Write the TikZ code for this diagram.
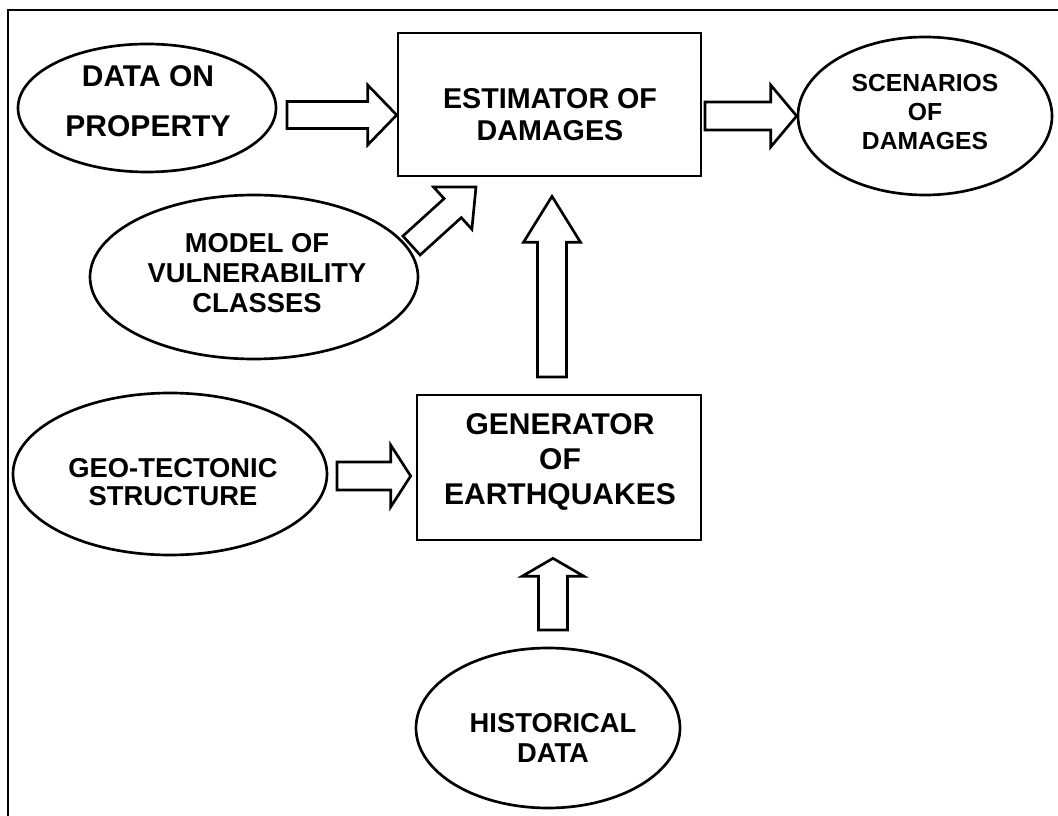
\documentclass[tikz,border=0pt]{standalone}
\usepackage{fontspec}
\setmainfont{Liberation Sans}
\usetikzlibrary{shapes.geometric,calc}
\newcommand{\blockarrow}[5]{%
  \coordinate (ba-n) at ($(#2)!#5!(#1)$);
  \draw[blockarr] ($(#1)!#3!90:(#2)$) -- ($(ba-n)!#3!90:(#2)$) -- ($(ba-n)!#4!90:(#2)$) -- (#2)
    -- ($(ba-n)!#4!-90:(#2)$) -- ($(ba-n)!#3!-90:(#2)$) -- ($(#1)!#3!-90:(#2)$) -- cycle;
}
\begin{document}
\begin{tikzpicture}[x=0.75pt,y=-0.75pt,line width=2pt,
  ell/.style={ellipse,draw,inner sep=0pt},
  box/.style={rectangle,draw,inner sep=0pt},
  txt/.style={inner sep=0pt,align=center},
  blockarr/.style={draw,fill=white,line width=2pt,line join=miter}]
\useasboundingbox (0,0) rectangle (1058,816);
\draw (8,816) -- (8,10) -- (1058,10);

% shapes
\node[ell,minimum width=193.5pt,minimum height=96pt] (data) at (147,108) {};
\node[box,minimum width=227.25pt,minimum height=107.25pt] (est) at (549.5,104.5) {};
\node[ell,minimum width=190.5pt,minimum height=118.5pt] (scen) at (925,116) {};
\node[ell,minimum width=246pt,minimum height=123pt] (model) at (254,277) {};
\node[box,minimum width=213pt,minimum height=108.75pt] (gen) at (559,467.5) {};
\node[ell,minimum width=235.5pt,minimum height=121.5pt] (geo) at (170,474) {};
\node[ell,minimum width=198pt,minimum height=120pt] (hist) at (548,728) {};

% texts
\node[txt,font=\fontsize{22.5pt}{37.5pt}\selectfont\bfseries] (data-t) at (148,101) {DATA ON\\PROPERTY};
\node[txt,font=\fontsize{21.5pt}{24pt}\selectfont\bfseries] (est-t) at (550,115) {ESTIMATOR OF\\DAMAGES};
\node[txt,font=\fontsize{18.5pt}{21.75pt}\selectfont\bfseries] (scen-t) at (925,112) {SCENARIOS\\OF\\DAMAGES};
\node[txt,font=\fontsize{20.5pt}{22.5pt}\selectfont\bfseries] (model-t) at (257,273) {MODEL OF\\VULNERABILITY\\CLASSES};
\node[txt,font=\fontsize{22.5pt}{26.25pt}\selectfont\bfseries] (gen-t) at (560,462) {GENERATOR\\OF\\EARTHQUAKES};
\node[txt,font=\fontsize{20.5pt}{21pt}\selectfont\bfseries] (geo-t) at (173,482) {GEO-TECTONIC\\STRUCTURE};
\node[txt,font=\fontsize{20.5pt}{22pt}\selectfont\bfseries] (hist-t) at (553,738) {HISTORICAL\\DATA};

% connector end points
\coordinate (a1s) at (287,115);
\coordinate (a1e) at (est.west |- a1s);
\coordinate (a2s) at (705,116);
\coordinate (a2e) at (scen.west |- a2s);
\coordinate (a3s) at (411.5,245.5);
\coordinate (a3e) at (476,187);
\coordinate (a4s) at (552,377);
\coordinate (a4e) at ($(est.south -| a4s)+(0,19)$);
\coordinate (a5s) at (337,476);
\coordinate (a5e) at ($(gen.west |- a5s)+(-5,0)$);
\coordinate (a6s) at (553,630);
\coordinate (a6e) at ($(gen.south -| a6s)+(0,17)$);

% block arrows
\blockarrow{a1s}{a1e}{10.1pt}{22.5pt}{21.75pt}
\blockarrow{a2s}{a2e}{10.5pt}{23.25pt}{19.5pt}
\blockarrow{a3s}{a3e}{9.6pt}{21.4pt}{23.6pt}
\blockarrow{a4s}{a4e}{10.9pt}{21.4pt}{34.5pt}
\blockarrow{a5s}{a5e}{10.5pt}{23.25pt}{15pt}
\blockarrow{a6s}{a6e}{10.9pt}{23.25pt}{13.5pt}
\end{tikzpicture}
\end{document}
